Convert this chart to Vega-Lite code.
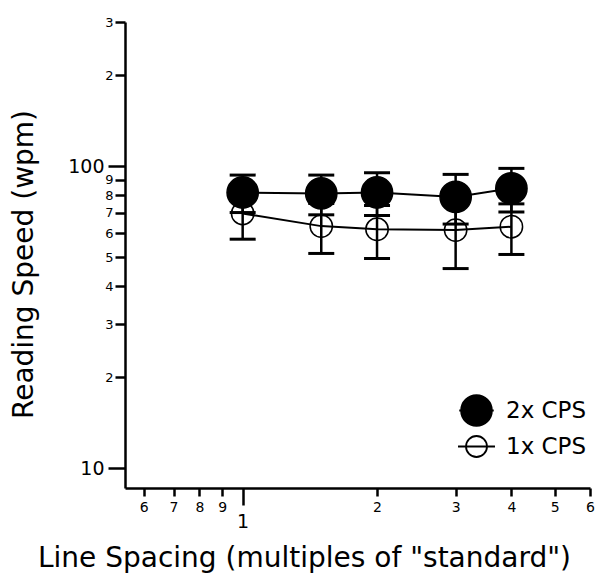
{
  "$schema": "https://vega.github.io/schema/vega-lite/v6.json",
  "autosize": {"type": "none"},
  "padding": {"left": 125, "top": 22, "right": 10, "bottom": 96},
  "width": 465,
  "height": 466,
  "background": "white",
  "config": {
    "view": {"stroke": null},
    "axis": {
      "labelFont": "DejaVu Sans", "labelColor": "black", "tickColor": "black", "tickWidth": 2.5,
      "domainColor": "black", "domainWidth": 2.5, "grid": false, "labelOverlap": false,
      "labelFlush": false, "labelBound": false, "titleFont": "DejaVu Sans", "titleFontSize": 28,
      "titleFontWeight": "normal", "titleColor": "black"
    }
  },
  "data": {"values": [
    {"series": "1x CPS", "x": 1, "y": 69.7, "lo": 57.3, "hi": 82.1},
    {"series": "1x CPS", "x": 1.5, "y": 63.3, "lo": 51.4, "hi": 75.2},
    {"series": "1x CPS", "x": 2, "y": 61.8, "lo": 49.5, "hi": 74.1},
    {"series": "1x CPS", "x": 3, "y": 61.4, "lo": 45.8, "hi": 77.0},
    {"series": "1x CPS", "x": 4, "y": 63.0, "lo": 51.0, "hi": 75.0},
    {"series": "2x CPS", "x": 1, "y": 81.8, "lo": 70.2, "hi": 93.4},
    {"series": "2x CPS", "x": 1.5, "y": 81.2, "lo": 69.0, "hi": 93.4},
    {"series": "2x CPS", "x": 2, "y": 81.8, "lo": 68.6, "hi": 95.0},
    {"series": "2x CPS", "x": 3, "y": 79.1, "lo": 64.3, "hi": 93.9},
    {"series": "2x CPS", "x": 4, "y": 84.4, "lo": 70.5, "hi": 98.3}
  ]},
  "encoding": {
    "x": {"field": "x", "type": "quantitative", "scale": {"type": "log", "domain": [0.545, 6], "nice": false, "zero": false}, "axis": null},
    "y": {"field": "y", "type": "quantitative", "scale": {"type": "log", "domain": [8.6, 300], "nice": false, "zero": false}, "axis": null}
  },
  "resolve": {"axis": {"x": "independent", "y": "independent"}},
  "layer": [
    {
      "mark": {"type": "rule", "color": "black", "strokeWidth": 2.5},
      "encoding": {
        "x": {
          "field": "x", "type": "quantitative",
          "scale": {"type": "log", "domain": [0.545, 6], "nice": false, "zero": false},
          "axis": {
            "orient": "bottom",
            "title": "Line Spacing (multiples of \"standard\")",
            "values": [0.6, 0.7, 0.8, 0.9, 2, 3, 4, 5, 6],
            "labelExpr": "datum.value < 1 ? toString(round(datum.value * 10)) : toString(datum.value)",
            "labelFontSize": 14,
            "labelPadding": 4,
            "tickSize": 8,
            "titleX": 179,
            "titleY": 78,
            "titleAlign": "center",
            "titleBaseline": "alphabetic"
          }
        },
        "y": {
          "field": "lo", "type": "quantitative",
          "scale": {"type": "log", "domain": [8.6, 300], "nice": false, "zero": false},
          "axis": {
            "orient": "left",
            "title": "Reading Speed (wpm)",
            "values": [20, 30, 40, 50, 60, 70, 80, 90, 200, 300],
            "labelExpr": "substring(toString(datum.value), 0, 1)",
            "labelFontSize": 13,
            "labelPadding": 2,
            "tickSize": 10,
            "titleAngle": 270,
            "titleX": -93,
            "titleY": 242,
            "titleAlign": "center",
            "titleBaseline": "alphabetic"
          }
        },
        "y2": {"field": "hi"}
      }
    },
    {
      "mark": {"type": "tick", "orient": "horizontal", "size": 26, "thickness": 3, "color": "black", "opacity": 1},
      "encoding": {
        "x": {
          "field": "x", "type": "quantitative",
          "scale": {"type": "log", "domain": [0.545, 6], "nice": false, "zero": false},
          "axis": {
            "orient": "bottom",
            "title": null,
            "domain": false,
            "values": [1],
            "format": "d",
            "labelFontSize": 19,
            "labelPadding": 7,
            "tickSize": 17
          }
        },
        "y": {
          "field": "lo", "type": "quantitative",
          "scale": {"type": "log", "domain": [8.6, 300], "nice": false, "zero": false},
          "axis": {
            "orient": "left",
            "title": null,
            "domain": false,
            "values": [10, 100],
            "format": "d",
            "labelFontSize": 19,
            "labelPadding": 4,
            "tickSize": 17
          }
        }
      }
    },
    {
      "mark": {"type": "tick", "orient": "horizontal", "size": 26, "thickness": 3, "color": "black", "opacity": 1},
      "encoding": {"y": {"field": "hi", "type": "quantitative", "scale": {"type": "log", "domain": [8.6, 300], "nice": false, "zero": false}, "axis": null}}
    },
    {
      "mark": {"type": "line", "color": "black", "strokeWidth": 2},
      "encoding": {"detail": {"field": "series"}}
    },
    {
      "mark": {"type": "point", "shape": "circle", "filled": true, "stroke": "black", "strokeWidth": 1.5, "opacity": 1},
      "encoding": {
        "fill": {
          "field": "series", "type": "nominal",
          "scale": {"domain": ["2x CPS", "1x CPS"], "range": ["black", "transparent"]}
        },
        "size": {"condition": {"test": "datum.series === '2x CPS'", "value": 980}, "value": 500}
      }
    },
    {
      "transform": [{"filter": "false"}],
      "mark": {"type": "point", "filled": true, "stroke": "black", "strokeWidth": 1.8, "opacity": 1},
      "encoding": {
        "fill": {
          "field": "series", "type": "nominal",
          "scale": {"domain": ["2x CPS", "1x CPS"], "range": ["black", "transparent"]},
          "legend": {
            "title": null,
            "orient": "none",
            "legendX": 335,
            "legendY": 372,
            "padding": 0,
            "labelOffset": 13,
            "rowPadding": 2,
            "labelFont": "DejaVu Sans",
            "labelFontSize": 23,
            "labelColor": "black",
            "labelBaseline": "middle",
            "symbolStrokeColor": "black",
            "symbolStrokeWidth": 1.8
          }
        },
        "shape": {
          "field": "series", "type": "nominal",
          "scale": {"domain": ["2x CPS", "1x CPS"], "range": ["M-1,0A1,1,0,1,1,1,0A1,1,0,1,1,-1,0ZM-1.12,0L1.12,0", "M-1,0A1,1,0,1,1,1,0A1,1,0,1,1,-1,0ZM-1.76,0L1.76,0"]},
          "legend": {"title": null}
        },
        "size": {
          "field": "series", "type": "nominal",
          "scale": {"domain": ["2x CPS", "1x CPS"], "range": [950, 441]},
          "legend": {"title": null}
        }
      }
    }
  ]
}
